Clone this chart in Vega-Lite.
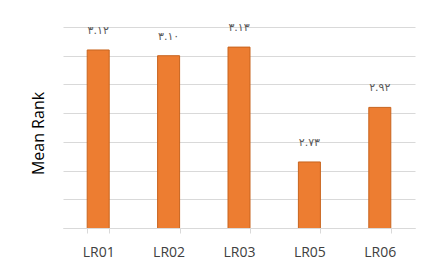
{
  "$schema": "https://vega.github.io/schema/vega-lite/v6.json",
  "width": 352,
  "height": 201,
  "autosize": {"type": "none"},
  "padding": {"left": 63, "top": 27, "right": 13, "bottom": 45},
  "background": "white",
  "config": {"view": {"stroke": null}},
  "data": {
    "values": [
      {"group": "LR01", "rank": 3.12, "label": "٣.١٢"},
      {"group": "LR02", "rank": 3.10, "label": "٣.١٠"},
      {"group": "LR03", "rank": 3.13, "label": "٣.١٣"},
      {"group": "LR05", "rank": 2.73, "label": "٢.٧٣"},
      {"group": "LR06", "rank": 2.92, "label": "٢.٩٢"}
    ]
  },
  "encoding": {
    "x": {
      "field": "group",
      "type": "nominal",
      "sort": null,
      "scale": {"paddingInner": 0.6875, "paddingOuter": 0.34375},
      "axis": {
        "title": null,
        "labelAngle": 0,
        "labelFont": "Open Sans",
        "labelFontSize": 14,
        "labelColor": "#404040",
        "labelPadding": 12,
        "domainColor": "#d9d9d9",
        "tickColor": "#d9d9d9",
        "tickBand": "extent",
        "tickSize": 5,
        "grid": false
      }
    },
    "y": {
      "field": "rank",
      "type": "quantitative",
      "scale": {"domain": [2.5, 3.2], "zero": false, "nice": false},
      "axis": {
        "title": "Mean Rank",
        "titleFont": "Open Sans",
        "titleFontSize": 16,
        "titleFontWeight": "normal",
        "titleColor": "#000000",
        "titleX": -25,
        "titleY": 106,
        "titleAngle": -90,
        "titleAlign": "center",
        "titleBaseline": "middle",
        "labels": false,
        "ticks": false,
        "domain": false,
        "grid": true,
        "gridColor": "#d9d9d9",
        "values": [2.5, 2.6, 2.7, 2.8, 2.9, 3.0, 3.1, 3.2]
      }
    }
  },
  "layer": [
    {
      "mark": {"type": "bar", "color": "#ED7D31", "stroke": "#C8641E", "strokeWidth": 1, "clip": true}
    },
    {
      "mark": {"type": "text", "font": "DejaVu Sans", "fontSize": 11, "color": "#595959", "baseline": "middle", "dy": -19},
      "encoding": {"text": {"field": "label"}}
    }
  ]
}
